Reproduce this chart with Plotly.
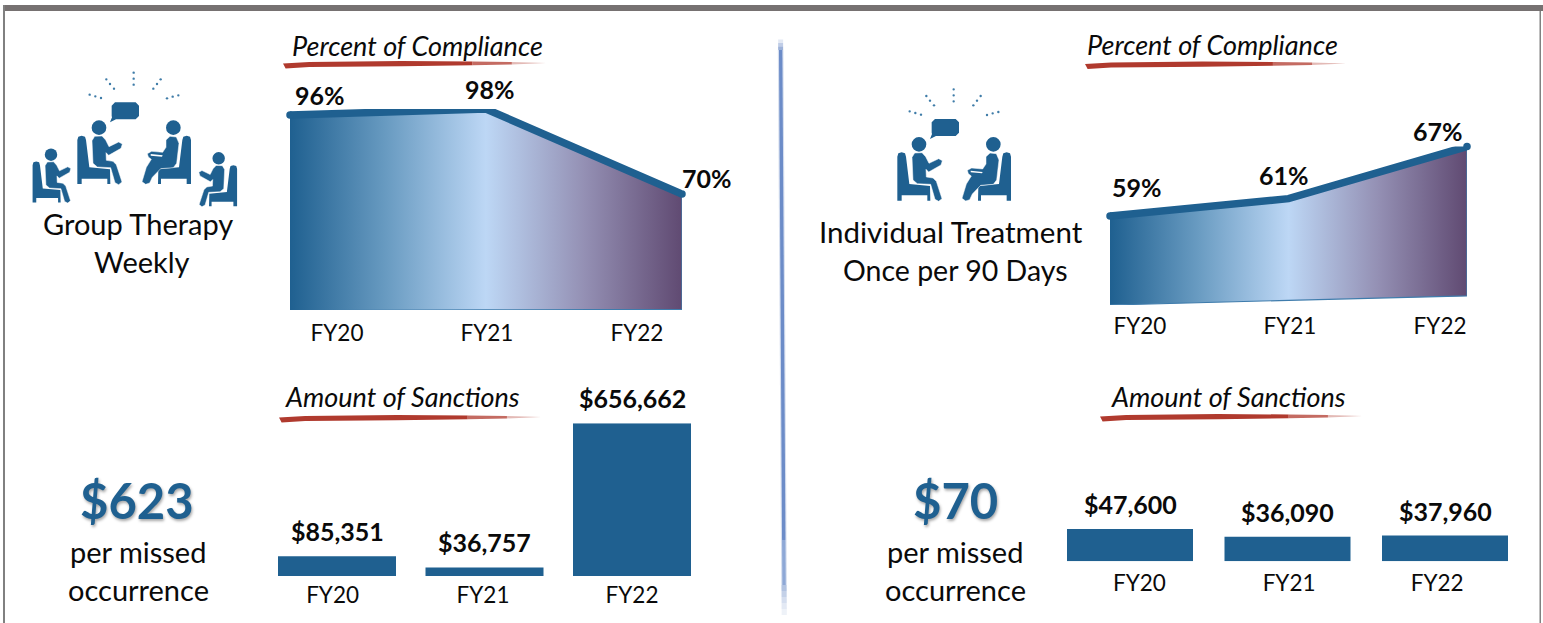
import plotly.graph_objects as go

W, H = 1543, 623
FONT = "Lato"
BLUE = "#1F6090"
RED = "#B03A2E"

# ---- data ----
years = ["FY20", "FY21", "FY22"]
pos = [0, 1, 2]
group_compliance = [96, 98, 70]
group_floor = [31.65, 31.9, 32.1]
group_compliance_text = ["96%", "98%", "70%"]
indiv_compliance = [59, 61, 67]
indiv_floor = [48.76, 49.3, 49.8]
indiv_compliance_text = ["59%", "61%", "67%"]
group_sanctions = [85351, 36757, 656662]
indiv_sanctions = [47600, 36090, 37960]


def px(x):
    return x / W


def py(y):
    return 1 - y / H


def path(cmds):
    out = []
    for c in cmds:
        if c == "Z":
            out.append("Z")
        else:
            out.append(f"{c[0]} {px(c[1]):.5f},{py(c[2]):.5f}")
    return " ".join(out)


shapes = []
ann = []


def poly(points, color, line_color=None, line_width=0, opacity=1):
    cmds = [("M", *points[0])] + [("L", *p) for p in points[1:]] + ["Z"]
    shapes.append(dict(type="path", xref="paper", yref="paper", path=path(cmds),
                       fillcolor=color, opacity=opacity, layer="above",
                       line=dict(color=line_color or color, width=line_width)))


def circle(cx, cy, r, color):
    shapes.append(dict(type="circle", xref="paper", yref="paper",
                       x0=px(cx - r), x1=px(cx + r), y0=py(cy + r), y1=py(cy - r),
                       fillcolor=color, line=dict(width=0), layer="above"))


def text(x, y, s, size, color="#0A0A0A", bold=False, italic=False, shadow=None):
    f = dict(family=FONT, size=size, color=color,
             weight="bold" if bold else "normal",
             style="italic" if italic else "normal")
    if shadow:
        f["shadow"] = shadow
    ann.append(dict(x=px(x), y=py(y), xref="paper", yref="paper", text=s, showarrow=False,
                    xanchor="center", yanchor="middle", font=f))


# ---- frame ----
poly([(3, 5), (1543, 5), (1543, 11), (3, 11)], "#767171")
poly([(3, 5), (5, 5), (5, 623), (3, 623)], "#808080")
poly([(1539.5, 11), (1541, 11), (1541, 623), (1539.5, 623)], "#808080")


# ---- divider ----
def div_cx(y):
    return 780.6 + (y - 40) * 3.6 / 570


def div_seg(y0, y1, half, color, op):
    poly([(div_cx(y0) - half, y0), (div_cx(y0) + half, y0), (div_cx(y1) + half, y1), (div_cx(y1) - half, y1)],
         color, opacity=op)


div_seg(50, 585, 2.8, "#7391C9", 0.3)
div_seg(50, 540, 1.7, "#6C8CC8", 1)
div_seg(540, 585, 1.7, "#8EA8D6", 1)
for i, op in enumerate([0.7, 0.45, 0.2]):
    div_seg(50 - 3.5 * (i + 1), 50 - 3.5 * i, 2.5, "#7391C9", op)
for i, op in enumerate([0.55, 0.42, 0.3, 0.2, 0.12]):
    div_seg(585 + 6 * i, 585 + 6 * (i + 1), 2.6, "#7391C9", op)


# ---- brush underlines ----
def brush(x0, x1, y):
    L = x1 - x0
    poly([(x0, y - 0.5), (x0 + 0.1 * L, y - 2), (x0 + 0.45 * L, y - 3), (x0 + 0.72 * L, y - 2.5),
          (x0 + 0.72 * L, y + 1.2), (x0 + 0.45 * L, y + 2.2), (x0 + 0.1 * L, y + 3), (x0 + 0.01 * L, y + 4.5)], RED)
    poly([(x0 + 0.72 * L, y - 2.5), (x0 + 0.87 * L, y - 2), (x0 + 0.87 * L, y + 0.5), (x0 + 0.72 * L, y + 1.2)],
         RED, opacity=0.75)
    poly([(x0 + 0.87 * L, y - 2), (x1, y - 1), (x0 + 0.87 * L, y + 0.5)], RED, opacity=0.35)


brush(283, 546, 64)
brush(1085, 1346, 64.5)
brush(279, 541, 418)
brush(1100, 1362, 417)

# ---- icons ----
ICON = "#1F6090"
DOTS = [(341, 38), (341, 56), (341, 74), (259, 58), (270, 72), (282, 86), (422, 58), (411, 72),
        (400, 86), (209, 104), (226, 109), (243, 114), (475, 106), (458, 110), (441, 115)]
CHAIR = [(172, 240), (175, 230), (185, 227), (195, 230), (198, 240), (208, 322), (270, 328), (271, 372),
         (262, 372), (262, 356), (185, 356), (185, 372), (172, 372)]
SPEAKER = [(216, 242), (224, 229), (246, 228), (257, 240), (267, 260), (296, 246), (307, 252), (303, 265),
           (266, 286), (258, 278), (259, 301), (279, 304), (289, 314), (306, 366), (296, 374), (285, 368),
           (272, 323), (232, 321), (219, 310)]
LISTENER = [(438, 240), (450, 229), (469, 231), (477, 250), (470, 310), (460, 323), (422, 326), (397, 352),
            (389, 369), (377, 373), (366, 365), (379, 322), (394, 298), (385, 291), (382, 281), (395, 274),
            (428, 277), (438, 262)]


def map_pts(pts, T):
    return [T(*p) for p in pts]


def icon(ox, oy, group):
    base = lambda x, y: (ox + x / 3, oy + y / 3)

    def draw_speaker(hx, hy, s, mirror):
        def T(x, y):
            lx = (x - 237) * s
            ly = (y - 203) * s
            return base(hx - lx if mirror else hx + lx, hy + ly)
        poly(map_pts(CHAIR, T), ICON)
        poly(map_pts(SPEAKER, T), ICON, "white", 0.5)
        cx, cy = T(237, 203)
        circle(cx, cy, 22 * s / 3, ICON)

    def draw_listener():
        def Tc(x, y):
            return base(685 - x, y)
        poly(map_pts(CHAIR, Tc), ICON)
        poly(map_pts(LISTENER, base), ICON, "white", 0.5)
        cx, cy = base(460, 203)
        circle(cx, cy, 22 / 3, ICON)
        poly(map_pts([(392, 282), (428, 286), (426, 290), (392, 287)], base), "white")

    for x, y in DOTS:
        cx, cy = base(x, y)
        circle(cx, cy, 1.2, "#3F7CA8")
    bubble = [(285, 127), (347, 127), (357, 137), (357, 168), (347, 178), (288, 178), (270, 187), (276, 172),
              (275, 168), (275, 137)]
    poly(map_pts(bubble, base), ICON)
    draw_speaker(237, 203, 1, False)
    draw_listener()
    if group:
        draw_speaker(93, 284, 0.85, False)
        draw_speaker(596, 295, 0.85, True)


icon(20, 60, True)
icon(840, 76.67, False)

# ---- free text ----
text(138, 223, "Group Therapy", 29)
text(142, 261, "Weekly", 29)
text(951, 231, "Individual Treatment", 29.5)
text(955, 270, "Once per 90 Days", 28.5)
SH = "1px 2px 3px rgba(0,0,0,0.35)"
text(137, 500, "$623", 49, BLUE, bold=True, shadow=SH)
text(955, 500, "$70", 49, BLUE, bold=True, shadow=SH)
for cx in (138, 955):
    text(cx, 551, "per missed", 29)
    text(cx, 589, "occurrence", 29)
text(417, 45.5, "Percent of Compliance", 27, italic=True)
text(1212, 44.5, "Percent of Compliance", 27, italic=True)
text(402, 396.5, "Amount of Sanctions", 27, italic=True)
text(1228, 396.5, "Amount of Sanctions", 27, italic=True)

# ---- charts ----
fig = go.Figure()
GRAD = [[0, "#1F6090"], [0.25, "#6A9CC2"], [0.5, "#BDD7F5"], [0.75, "#9490B4"], [1, "#604A72"]]
TICK = dict(family=FONT, size=22.5, color="#0A0A0A")


def axis_x(dom, rng, tv, ticklen=0, standoff=0):
    return dict(domain=[px(dom[0]), px(dom[1])], range=rng, tickmode="array", tickvals=tv, ticktext=years,
                showgrid=False, zeroline=False, showline=False, ticks="outside", ticklen=ticklen,
                tickwidth=1, tickcolor="rgba(0,0,0,0)", tickfont=TICK, fixedrange=True,
                ticklabelstandoff=standoff)


def axis_y(top, bottom, rng):
    return dict(domain=[py(bottom), py(top)], range=rng, visible=False, fixedrange=True)


LABEL = dict(family=FONT, size=25, weight="bold", color="#0A0A0A")


def area(xn, yn, vals, floor, labels, offsets):
    fig.add_trace(go.Scatter(x=pos + pos[::-1], y=vals + floor[::-1], xaxis=xn, yaxis=yn, mode="lines",
                             fill="toself", line=dict(color="#3F7CAC", width=1.2),
                             fillgradient=dict(type="horizontal", colorscale=GRAD),
                             hoverinfo="skip", showlegend=False))
    fig.add_trace(go.Scatter(x=pos, y=vals, xaxis=xn, yaxis=yn, mode="lines",
                             line=dict(color=BLUE, width=7.5),
                             cliponaxis=False, showlegend=False))
    fig.add_trace(go.Scatter(x=[pos[0], pos[-1]], y=[vals[0], vals[-1]], xaxis=xn, yaxis=yn, mode="markers",
                             marker=dict(color=BLUE, size=7.5, line=dict(width=0)),
                             cliponaxis=False, hoverinfo="skip", showlegend=False))
    for p, v, t, (dx, dy) in zip(pos, vals, labels, offsets):
        ann.append(dict(x=p, y=v, xref=xn, yref=yn, text=t, showarrow=False, xshift=dx, yshift=dy,
                        xanchor="center", yanchor="middle", font=LABEL))


def bars(xn, yn, vals):
    fig.add_trace(go.Bar(x=pos, y=vals, xaxis=xn, yaxis=yn, marker=dict(color=BLUE, line=dict(width=0)),
                         width=0.8, cliponaxis=False, showlegend=False))
    for p, v in zip(pos, vals):
        ann.append(dict(x=p, y=v, xref=xn, yref=yn, text=f"${v:,}", showarrow=False, yshift=25,
                        xanchor="center", yanchor="middle", font=LABEL))


area("x", "y", group_compliance, group_floor, group_compliance_text, [(30, 20), (4, 20), (25, 16)])
area("x2", "y2", indiv_compliance, indiv_floor, indiv_compliance_text, [(27, 29), (-5, 24), (-29, 15)])
bars("x3", "y3", group_sanctions)
bars("x4", "y4", indiv_sanctions)

fig.update_layout(
    width=W, height=H, margin=dict(l=0, r=0, t=0, b=0), paper_bgcolor="white", plot_bgcolor="white",
    showlegend=False, shapes=shapes, annotations=ann, font=dict(family=FONT),
    xaxis=axis_x((290, 682), [0, 2], [0.24, 1.005, 1.77], 3),
    yaxis=axis_y(109, 310, [98 - 201 / 3.04, 98]),
    xaxis2=axis_x((1110, 1467), [0, 2], [0.168, 1.008, 1.849], 1),
    yaxis2=axis_y(146.5, 305, [48.76, 67]),
    xaxis3=axis_x((278 - 14.75, 691 + 14.75), [-0.5, 2.5], [-0.03, 0.99, 2.0], 0, -1),
    yaxis3=axis_y(423.3, 576, [0, 656662]),
    xaxis4=axis_x((1067 - 15.75, 1508 + 15.75), [-0.5, 2.5], [0.06, 1.01, 1.95], 2),
    yaxis4=axis_y(529, 561.3, [0, 47600]),
)
for i in ("", "2", "3", "4"):
    fig.layout[f"xaxis{i}"].anchor = f"y{i}"
    fig.layout[f"yaxis{i}"].anchor = f"x{i}"

fig.write_html("out.html", config=dict(displayModeBar=False),
               post_script="document.body.style.margin='0';document.body.style.overflow='hidden';")
